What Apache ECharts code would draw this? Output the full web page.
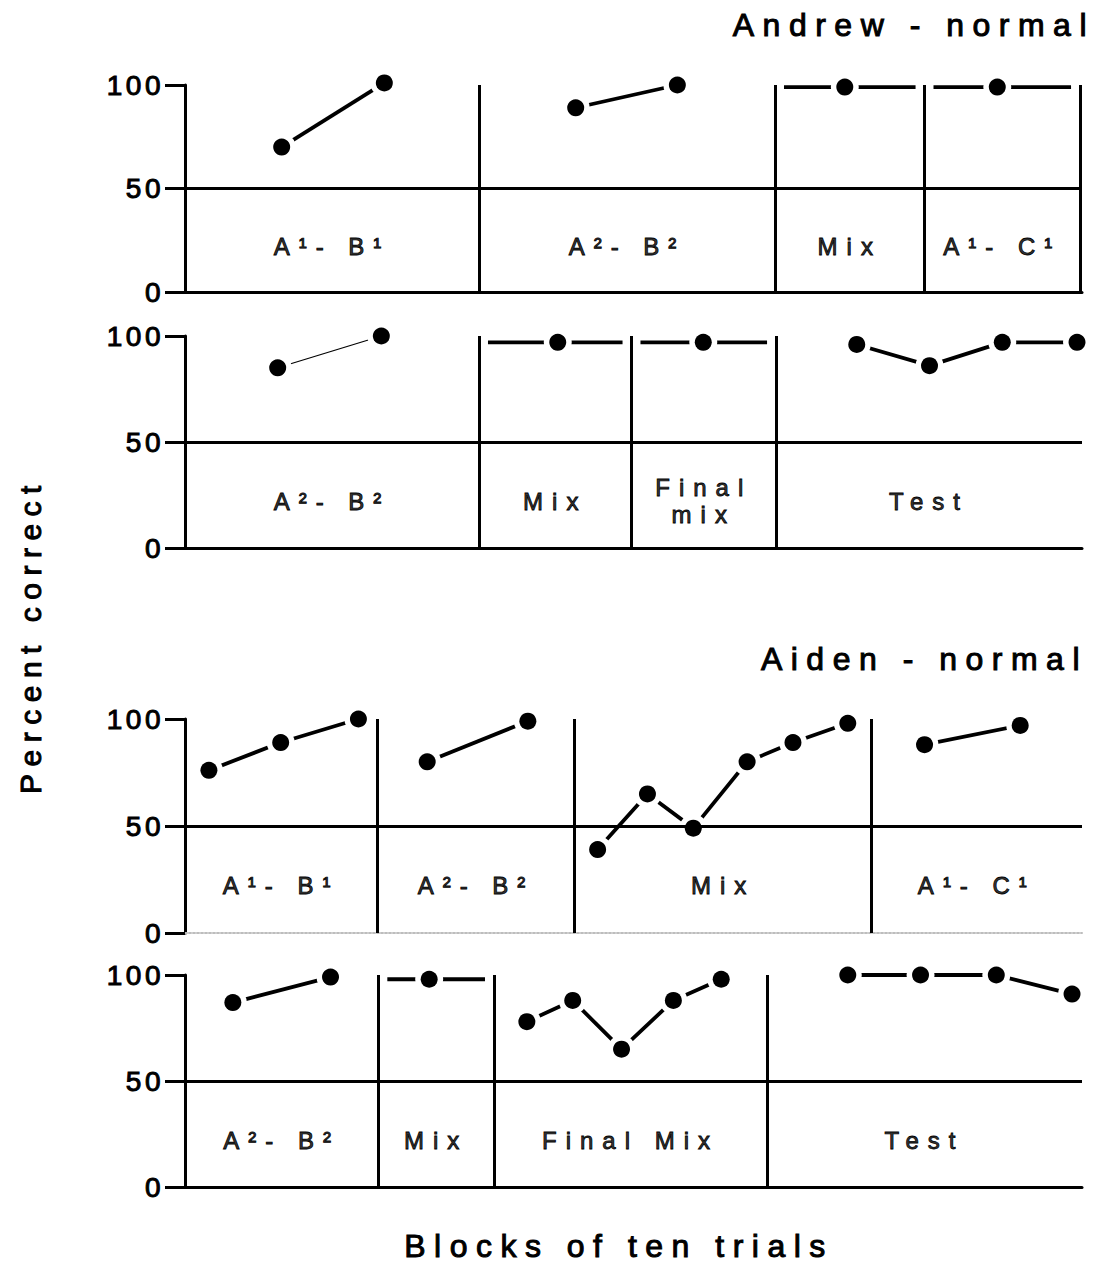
<!DOCTYPE html>
<html>
<head>
<meta charset="utf-8">
<script src="https://cdn.jsdelivr.net/npm/echarts@6/dist/echarts.min.js"></script>
<style>
html,body{margin:0;padding:0;background:#fff}
#chart{width:1100px;height:1265px}
</style>
</head>
<body>
<div id="chart"></div>
<script>
// ---------------- data ----------------
const titles = ['Andrew - normal', 'Aiden - normal'];
const xAxisName = 'Blocks of ten trials';
const yAxisName = 'Percent correct';
const yTicks = [0, 50, 100];

// Panel 1 : Andrew, first row
const p1Labels = ['A¹- B¹', 'A²- B²', 'Mix', 'A¹- C¹'];
const p1Bounds = [0, 2.95, 5.92, 7.42, 8.98];
const p1Blocks = [[0.97, 2.00], [3.92, 4.94], [6.62], [8.15]];
const p1Values = [[70, 101], [89, 100], [99], [99]];

// Panel 2 : Andrew, second row
const p2Labels = ['A²- B²', 'Mix', 'Final\nmix', 'Test'];
const p2Bounds = [0, 2.95, 4.48, 5.93, 9];
const p2Blocks = [[0.93, 1.97], [3.74], [5.20], [6.74, 7.47, 8.20, 8.95]];
const p2Values = [[85, 100], [97], [97], [96, 86, 97, 97]];

// Panel 3 : Aiden, first row
const p3Labels = ['A¹- B¹', 'A²- B²', 'Mix', 'A¹- C¹'];
const p3Bounds = [0, 1.93, 3.91, 6.89, 9];
const p3Blocks = [[0.24, 0.96, 1.74], [2.43, 3.44], [4.14, 4.64, 5.10, 5.64, 6.10, 6.65], [7.42, 8.38]];
const p3Values = [[76, 89, 100], [80, 99], [39, 65, 49, 80, 89, 98], [88, 97]];

// Panel 4 : Aiden, second row
const p4Labels = ['A²- B²', 'Mix', 'Final Mix', 'Test'];
const p4Bounds = [0, 1.94, 3.10, 5.84, 9];
const p4Blocks = [[0.48, 1.46], [2.45], [3.43, 3.89, 4.38, 4.90, 5.38], [6.65, 7.38, 8.14, 8.90]];
const p4Values = [[87, 99], [98], [78, 88, 65, 88, 98], [100, 100, 100, 91]];

// ---------------- layout / style ----------------
const FONT = "'Liberation Sans', Arial, sans-serif";
const INSET = 0.09;
const LABEL_Y = 22;
const panels = [
  {labels: p1Labels, bounds: p1Bounds, blocks: p1Blocks, values: p1Values, top: 85,  height: 207, closedRight: true,  thin: []},
  {labels: p2Labels, bounds: p2Bounds, blocks: p2Blocks, values: p2Values, top: 336, height: 212, closedRight: false, thin: [0]},
  {labels: p3Labels, bounds: p3Bounds, blocks: p3Blocks, values: p3Values, top: 719, height: 214, closedRight: false, thin: [], faintBase: true},
  {labels: p4Labels, bounds: p4Bounds, blocks: p4Blocks, values: p4Values, top: 975, height: 212, closedRight: false, thin: []}
];

const grid = [], xAxis = [], yAxis = [], series = [];
panels.forEach((p, i) => {
  grid.push({left: 185, width: 897, top: p.top, height: p.height});
  xAxis.push({
    type: 'value', gridIndex: i, min: 0, max: 9,
    axisLine: {show: true, onZero: false, lineStyle: p.faintBase ? {color: '#bdbdbd', width: 2, type: 'dotted'} : {color: '#000', width: 3}},
    axisTick: {show: false}, axisLabel: {show: false}, splitLine: {show: false}
  });
  yAxis.push({
    type: 'value', gridIndex: i, min: yTicks[0], max: yTicks[yTicks.length - 1], interval: yTicks[1] - yTicks[0],
    axisLine: {show: true, lineStyle: {color: '#000', width: 3}},
    axisTick: {show: true, length: 20, lineStyle: {color: '#000', width: 3}},
    axisLabel: {show: true, margin: 21, color: '#000', fontSize: 28, fontFamily: FONT},
    splitLine: {show: false}
  });
  const allPts = [];
  p.blocks.forEach((xs, s) => {
    const pts = xs.map((x, k) => [x, p.values[s][k]]);
    pts.forEach(pt => allPts.push(pt));
    let lineData = pts.map(v => ({value: v}));
    if (xs.length === 1) {
      const v = p.values[s][0];
      lineData = [
        {value: [p.bounds[s] + INSET, v], symbol: 'none'},
        {value: pts[0]},
        {value: [p.bounds[s + 1] - INSET, v], symbol: 'none'}
      ];
    }
    series.push({
      type: 'line', xAxisIndex: i, yAxisIndex: i, data: lineData,
      symbol: 'circle', symbolSize: 28, itemStyle: {color: '#fff', borderWidth: 0},
      lineStyle: {color: '#000', width: p.thin.includes(s) ? 1.2 : 3.8},
      z: 2, clip: false, silent: true, animation: false
    });
  });
  series.push({
    type: 'scatter', xAxisIndex: i, yAxisIndex: i, data: allPts,
    symbol: 'circle', symbolSize: 17, itemStyle: {color: '#000', opacity: 1},
    z: 10, clip: false, silent: true, animation: false
  });
  const dividers = p.bounds.slice(1, p.closedRight ? p.bounds.length : p.bounds.length - 1);
  series.push({
    type: 'scatter', xAxisIndex: i, yAxisIndex: i,
    data: p.labels.map((name, s) => ({name: name, value: [(p.bounds[s] + p.bounds[s + 1]) / 2, LABEL_Y]})),
    symbolSize: 1, itemStyle: {color: 'rgba(0,0,0,0)'},
    label: {show: true, position: 'inside', formatter: '{b}', color: '#000', fontSize: 24, fontFamily: FONT, lineHeight: 27},
    markLine: {
      silent: true, symbol: 'none', z: 3, animation: false,
      label: {show: false},
      lineStyle: {color: '#000', width: 3, type: 'solid'},
      data: [{yAxis: 50}].concat(dividers.map(x => ({xAxis: x})))
    },
    z: 3, silent: true, animation: false
  });
});

const option = {
  animation: false,
  backgroundColor: '#fff',
  grid, xAxis, yAxis, series,
  graphic: [
    {type: 'text', x: 1095, y: 25, style: {text: titles[0], fontSize: 32, fontFamily: FONT, fill: '#000', align: 'right', verticalAlign: 'middle'}},
    {type: 'text', x: 1088, y: 659, style: {text: titles[1], fontSize: 32, fontFamily: FONT, fill: '#000', align: 'right', verticalAlign: 'middle'}},
    {type: 'text', x: 30, y: 636, rotation: Math.PI / 2, style: {text: yAxisName, fontSize: 30, fontFamily: FONT, fill: '#000', align: 'center', verticalAlign: 'middle'}},
    {type: 'text', x: 619, y: 1246, style: {text: xAxisName, fontSize: 32, fontFamily: FONT, fill: '#000', align: 'center', verticalAlign: 'middle'}}
  ]
};

const chart = echarts.init(document.getElementById('chart'), null, {renderer: 'svg'});
chart.setOption(option);

function applySpacing() {
  document.querySelectorAll('#chart text').forEach(t => {
    const fs = Math.round(parseFloat(getComputedStyle(t).fontSize));
    const ls = {32: 8.5, 30: 7.5, 28: 3.5, 24: 9}[fs];
    if (ls !== undefined) t.setAttribute('letter-spacing', ls + 'px');
    t.setAttribute('stroke', '#000');
    t.setAttribute('stroke-width', fs >= 28 ? '1' : '0.8');
    t.setAttribute('paint-order', 'stroke');
  });
}
applySpacing();
chart.on('finished', applySpacing);
setTimeout(applySpacing, 0);
requestAnimationFrame(applySpacing);
</script>
</body>
</html>
